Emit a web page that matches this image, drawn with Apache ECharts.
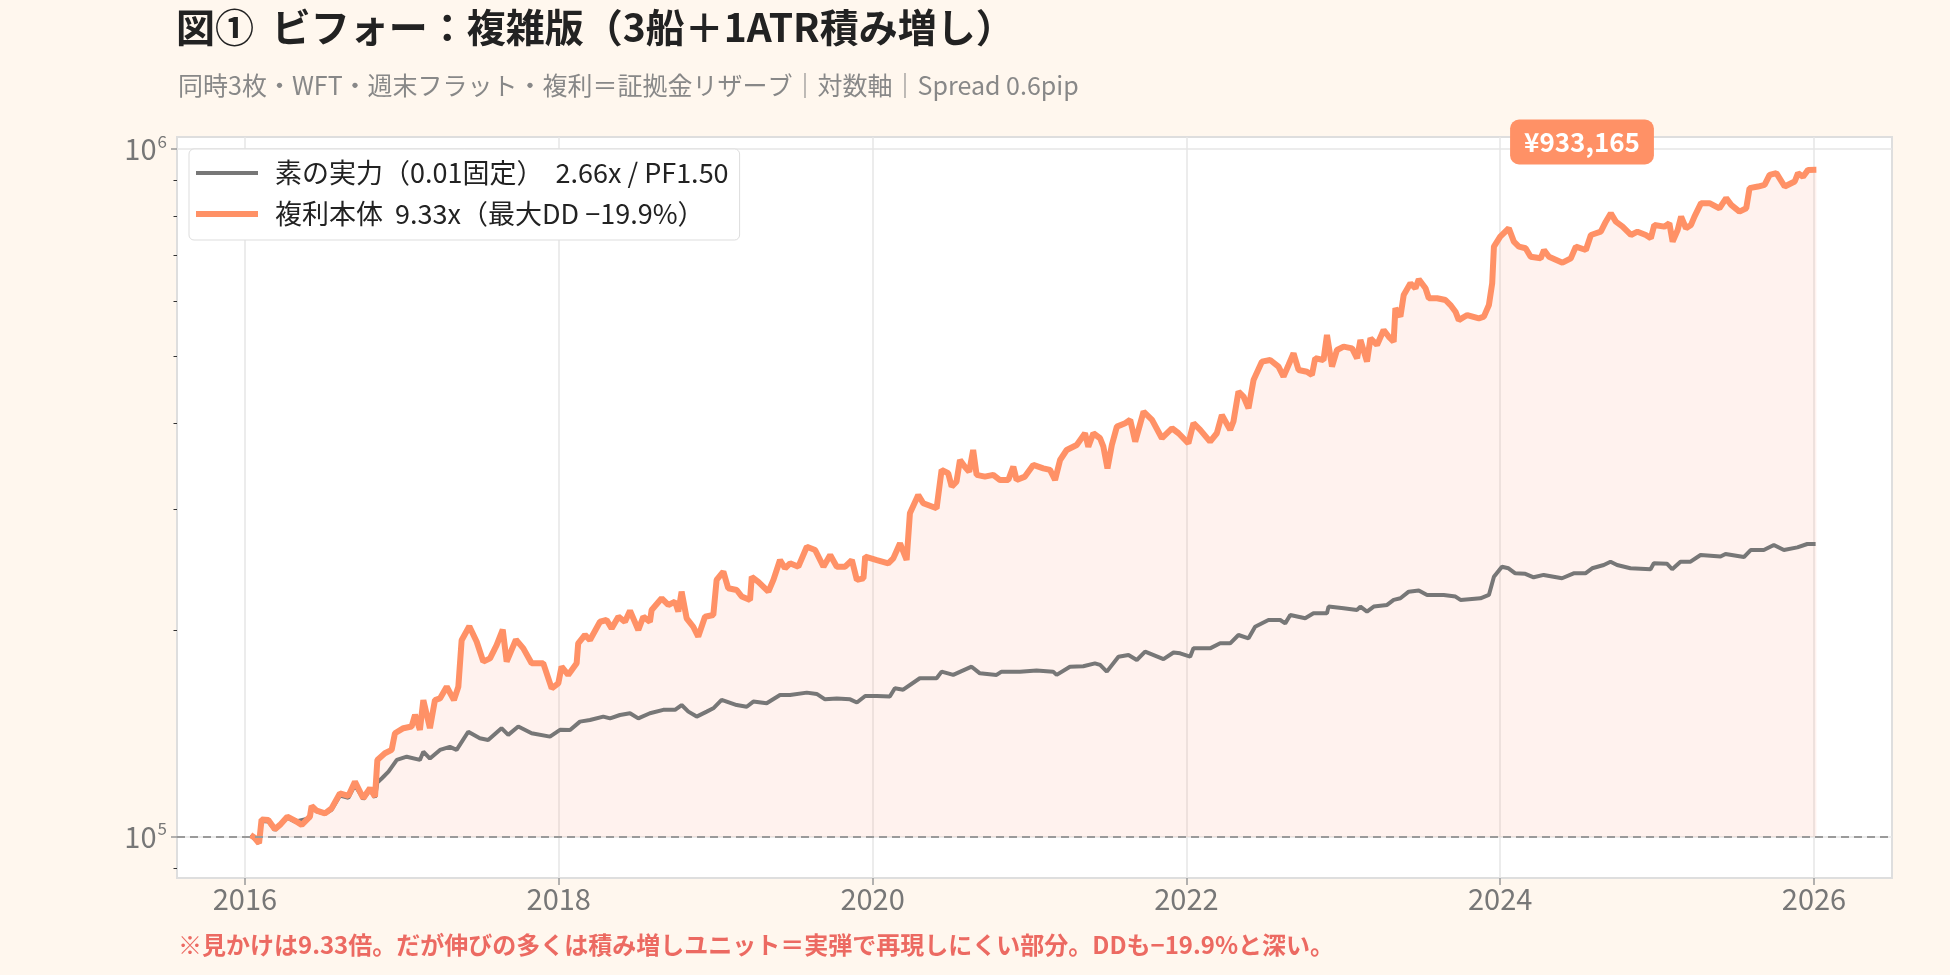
<!DOCTYPE html>
<html>
<head>
<meta charset="utf-8">
<script src="https://cdn.jsdelivr.net/npm/echarts@6/dist/echarts.min.js"></script>
<style>
  html, body { margin: 0; padding: 0; background: #fff7ee; }
  #main { width: 1950px; height: 975px; }
</style>
</head>
<body>
<div id="main"></div>
<script>
// 複利本体 (orange) : 年 / 資産
const compT = [2016.036, 2016.06, 2016.09, 2016.106, 2016.149, 2016.191, 2016.223, 2016.27, 2016.319, 2016.362,
  2016.414, 2016.425, 2016.457, 2016.51, 2016.552, 2016.605, 2016.659, 2016.701, 2016.754, 2016.797,
  2016.829, 2016.844, 2016.892, 2016.935, 2016.956, 2017.01, 2017.062, 2017.084, 2017.115, 2017.137,
  2017.179, 2017.211, 2017.243, 2017.286, 2017.332, 2017.36, 2017.381, 2017.43, 2017.477, 2017.519,
  2017.562, 2017.604, 2017.643, 2017.668, 2017.727, 2017.774, 2017.827, 2017.901, 2017.955, 2017.997,
  2018.018, 2018.06, 2018.114, 2018.124, 2018.167, 2018.199, 2018.263, 2018.305, 2018.337, 2018.38,
  2018.422, 2018.454, 2018.507, 2018.539, 2018.581, 2018.592, 2018.656, 2018.698, 2018.741, 2018.762,
  2018.783, 2018.815, 2018.857, 2018.889, 2018.932, 2018.985, 2019.006, 2019.049, 2019.08, 2019.134,
  2019.166, 2019.219, 2019.23, 2019.272, 2019.336, 2019.368, 2019.41, 2019.442, 2019.474, 2019.527,
  2019.581, 2019.634, 2019.687, 2019.73, 2019.772, 2019.825, 2019.868, 2019.9, 2019.942, 2019.953,
  2020.027, 2020.1, 2020.132, 2020.175, 2020.217, 2020.238, 2020.291, 2020.323, 2020.408, 2020.44,
  2020.482, 2020.504, 2020.535, 2020.557, 2020.588, 2020.616, 2020.641, 2020.663, 2020.716, 2020.769,
  2020.812, 2020.865, 2020.897, 2020.918, 2020.971, 2021.024, 2021.088, 2021.131, 2021.163, 2021.195,
  2021.237, 2021.301, 2021.354, 2021.375, 2021.407, 2021.45, 2021.471, 2021.497, 2021.525, 2021.557,
  2021.61, 2021.642, 2021.674, 2021.727, 2021.781, 2021.844, 2021.908, 2021.95, 2022.013, 2022.045,
  2022.088, 2022.151, 2022.194, 2022.226, 2022.279, 2022.3, 2022.332, 2022.364, 2022.396, 2022.428,
  2022.481, 2022.534, 2022.587, 2022.619, 2022.651, 2022.683, 2022.715, 2022.768, 2022.8, 2022.821,
  2022.874, 2022.896, 2022.928, 2022.96, 2023.002, 2023.056, 2023.088, 2023.109, 2023.151, 2023.173,
  2023.215, 2023.257, 2023.289, 2023.321, 2023.332, 2023.364, 2023.385, 2023.428, 2023.46, 2023.481,
  2023.524, 2023.545, 2023.598, 2023.651, 2023.683, 2023.715, 2023.736, 2023.79, 2023.864, 2023.896,
  2023.928, 2023.949, 2023.96, 2024.0, 2024.055, 2024.087, 2024.119, 2024.162, 2024.194, 2024.258,
  2024.279, 2024.311, 2024.397, 2024.45, 2024.482, 2024.546, 2024.578, 2024.641, 2024.673, 2024.705,
  2024.737, 2024.78, 2024.833, 2024.875, 2024.928, 2024.96, 2024.982, 2025.046, 2025.078, 2025.099,
  2025.131, 2025.153, 2025.184, 2025.216, 2025.238, 2025.28, 2025.334, 2025.397, 2025.44, 2025.472,
  2025.525, 2025.568, 2025.589, 2025.643, 2025.685, 2025.717, 2025.76, 2025.813, 2025.877, 2025.898,
  2025.93, 2025.962, 2026.015];
const compV = [100600, 99800, 97900, 106000, 105800, 102600, 104100, 107000, 105600, 104100,
  107000, 110900, 109200, 108200, 110000, 115700, 114700, 120300, 113800, 117700,
  114400, 129400, 132300, 133800, 141500, 143900, 144700, 150500, 143100, 158100,
  143900, 158100, 159000, 165300, 158100, 165300, 193200, 202400, 192200, 179800,
  181800, 190000, 200100, 179800, 193600, 188000, 178900, 178900, 164400, 167200,
  176800, 172000, 178800, 191200, 196600, 193300, 205500, 206700, 201000, 209000,
  205500, 213300, 199900, 209000, 205500, 213800, 222300, 217400, 219800, 212600,
  227300, 207900, 202100, 195500, 209000, 210200, 236400, 243000, 229900, 228600,
  223600, 221100, 238900, 234900, 227300, 236400, 252700, 245800, 249900, 247100,
  264200, 261300, 247100, 257000, 247100, 247100, 252700, 236400, 237700, 255600,
  252700, 249900, 254100, 267200, 252700, 295500, 314200, 305600, 300500, 341700,
  337900, 323100, 328600, 353200, 345400, 339700, 365200, 336000, 334100, 336000,
  330300, 330300, 345400, 330300, 334100, 347400, 343500, 341700, 330300, 353200,
  365200, 371400, 386300, 369300, 386300, 379900, 369300, 343500, 371400, 395000,
  399500, 404000, 375600, 415300, 404000, 379900, 392800, 386300, 373500, 399500,
  390700, 375600, 386300, 410700, 390700, 401800, 444200, 436800, 420100, 461800,
  490900, 493700, 482800, 466900, 485500, 504900, 477400, 474700, 469500, 496500,
  493700, 536900, 482800, 510500, 516200, 513300, 496500, 527900, 490900, 530900,
  519200, 545900, 534000, 524800, 587100, 570800, 613800, 638300, 627600, 646900,
  627600, 607000, 607000, 603500, 593400, 580300, 564300, 573900, 567600, 570800,
  593400, 638300, 721500, 746100, 767400, 733700, 721500, 717600, 697700, 693900,
  713500, 697700, 683900, 693900, 721500, 713500, 750300, 758600, 784500, 806900,
  784500, 771500, 750300, 758600, 750300, 742000, 775900, 771500, 780300, 733700,
  762900, 798000, 767400, 775900, 798000, 834600, 834600, 820400, 848700, 829900,
  811400, 820400, 877600, 882400, 887400, 917600, 922800, 882400, 897400, 922800,
  912000, 933000, 933165];

// 素の実力 (gray)
const baseT = [2016.036, 2016.09, 2016.106, 2016.149, 2016.191, 2016.27, 2016.319, 2016.414, 2016.425, 2016.457,
  2016.51, 2016.552, 2016.605, 2016.659, 2016.701, 2016.754, 2016.797, 2016.829, 2016.844, 2016.873,
  2016.915, 2016.968, 2017.031, 2017.115, 2017.137, 2017.179, 2017.243, 2017.306, 2017.349, 2017.423,
  2017.497, 2017.55, 2017.635, 2017.678, 2017.742, 2017.827, 2017.944, 2018.008, 2018.072, 2018.135,
  2018.199, 2018.284, 2018.327, 2018.39, 2018.454, 2018.507, 2018.581, 2018.666, 2018.741, 2018.783,
  2018.826, 2018.879, 2018.943, 2018.985, 2019.038, 2019.07, 2019.134, 2019.198, 2019.24, 2019.325,
  2019.41, 2019.474, 2019.581, 2019.644, 2019.697, 2019.772, 2019.857, 2019.9, 2019.953, 2020.027,
  2020.11, 2020.142, 2020.195, 2020.301, 2020.408, 2020.44, 2020.514, 2020.631, 2020.684, 2020.79,
  2020.822, 2020.939, 2021.045, 2021.151, 2021.173, 2021.258, 2021.343, 2021.417, 2021.45, 2021.493,
  2021.567, 2021.631, 2021.684, 2021.737, 2021.854, 2021.918, 2021.96, 2022.024, 2022.045, 2022.151,
  2022.215, 2022.279, 2022.332, 2022.396, 2022.438, 2022.523, 2022.598, 2022.63, 2022.662, 2022.757,
  2022.81, 2022.896, 2022.906, 2023.002, 2023.088, 2023.109, 2023.151, 2023.194, 2023.279, 2023.321,
  2023.364, 2023.417, 2023.481, 2023.534, 2023.64, 2023.715, 2023.747, 2023.874, 2023.928, 2023.96,
  2024.011, 2024.053, 2024.096, 2024.16, 2024.213, 2024.277, 2024.394, 2024.468, 2024.543, 2024.586,
  2024.66, 2024.703, 2024.745, 2024.83, 2024.958, 2024.979, 2025.064, 2025.096, 2025.149, 2025.213,
  2025.277, 2025.404, 2025.436, 2025.553, 2025.596, 2025.68, 2025.744, 2025.808, 2025.894, 2025.957,
  2026.01];
const baseV = [100600, 97900, 105500, 105300, 102300, 106600, 105200, 106500, 110300, 108900,
  108000, 109500, 114800, 114000, 119000, 113500, 117000, 114100, 120000, 121700,
  124400, 129400, 130800, 129400, 133000, 130000, 133800, 135200, 133800, 142200,
  139100, 138300, 143900, 140700, 144700, 141500, 139900, 143100, 143000, 147100,
  147900, 149600, 148700, 150400, 151300, 148700, 151300, 153000, 153000, 155500,
  152100, 149600, 152100, 153800, 158200, 157300, 155500, 154600, 157300, 156400,
  160800, 160800, 162100, 161400, 158500, 158900, 158500, 156800, 160300, 160300,
  160000, 164500, 163700, 170100, 170100, 173900, 172000, 176800, 172900, 172000,
  173900, 173900, 174500, 173900, 172000, 176800, 177100, 178800, 177900, 173900,
  182800, 183800, 180800, 185900, 181300, 185400, 184900, 182800, 188000, 188000,
  191200, 191200, 196600, 194400, 202100, 206700, 206700, 204400, 210200, 207900,
  211400, 211400, 216200, 215000, 213800, 216200, 212600, 216200, 217400, 221100,
  222300, 227300, 228100, 224800, 224800, 223600, 221100, 222300, 224800, 238900,
  247100, 245800, 241700, 241300, 238500, 240400, 237700, 241700, 241700, 245800,
  248500, 251300, 248500, 245800, 245000, 249900, 249500, 245000, 251300, 251300,
  257000, 255600, 257900, 255200, 261300, 261300, 265700, 261300, 263600, 266600,
  266600];

const START_CAPITAL = 100000;
const yearTicks = [2016, 2018, 2020, 2022, 2024, 2026];
const decadeTicks = [100000, 1000000];
const minorTicks = [90000, 200000, 300000, 400000, 500000, 600000, 700000, 800000, 900000];

const NAME_BASE = '素の実力（0.01固定）  2.66x / PF1.50';
const NAME_COMP = '複利本体  9.33x（最大DD −19.9%）';

const FONT = "'Noto Sans CJK JP', 'Noto Sans', sans-serif";
const ORANGE = '#ff9166';
const GRAY = '#777777';

const zip = (t, v) => t.map((x, i) => [x, v[i]]);
const compData = zip(compT, compV);
const baseData = zip(baseT, baseV);
const lastComp = compV[compV.length - 1];

const chart = echarts.init(document.getElementById('main'));

const option = {
  animation: false,
  backgroundColor: '#fff7ee',
  textStyle: { fontFamily: FONT },
  title: [
    {
      text: '図①  ビフォー：複雑版（3船＋1ATR積み増し）',
      left: 176, top: 4, padding: 0,
      textStyle: { fontFamily: FONT, fontSize: 39, fontWeight: 'bold', color: '#222', lineHeight: 46 }
    },
    {
      text: '同時3枚・WFT・週末フラット・複利＝証拠金リザーブ｜対数軸｜Spread 0.6pip',
      left: 178, top: 70, padding: 0,
      textStyle: { fontFamily: FONT, fontSize: 25, fontWeight: 'normal', color: '#888', lineHeight: 30 }
    },
    {
      text: '※見かけは9.33倍。だが伸びの多くは積み増しユニット＝実弾で再現しにくい部分。DDも−19.9%と深い。',
      left: 178, top: 930, padding: 0,
      textStyle: { fontFamily: FONT, fontSize: 24, fontWeight: 'bold', color: '#ec6a62', lineHeight: 30 }
    }
  ],
  legend: {
    data: [
      { name: NAME_BASE, icon: 'path://M0,0H62V4H0Z' },
      { name: NAME_COMP, icon: 'path://M0,0H62V6H0Z' }
    ],
    orient: 'vertical',
    left: 189, top: 149,
    backgroundColor: '#ffffff',
    borderColor: '#dddddd',
    borderWidth: 1,
    borderRadius: 5,
    padding: [9, 11, 11, 7],
    itemGap: 11,
    itemWidth: 62,
    itemHeight: 14,
    textStyle: { fontFamily: FONT, fontSize: 27, color: '#222', lineHeight: 30, padding: [0, 0, 0, 12] }
  },
  grid: {
    left: 177, right: 58, top: 137, bottom: 97,
    show: true,
    backgroundColor: '#ffffff',
    borderColor: '#dedede',
    borderWidth: 2
  },
  xAxis: {
    type: 'value',
    min: 2015.567,
    max: 2026.497,
    axisLine: { show: false },
    axisTick: { show: true, customValues: yearTicks, length: 7, lineStyle: { color: '#999', width: 1.5 } },
    axisLabel: {
      customValues: yearTicks, margin: 6,
      fontFamily: FONT, fontSize: 29, color: '#777',
      formatter: v => String(Math.round(v))
    },
    splitLine: { show: true, lineStyle: { color: '#e6e6e6', width: 1.5 } }
  },
  yAxis: [
    {
      type: 'log',
      logBase: 10,
      min: 87140,
      max: 1041600,
      axisLine: { show: false },
      axisTick: { show: true, customValues: decadeTicks, length: 6, lineStyle: { color: '#999', width: 1.5 } },
      axisLabel: {
        customValues: decadeTicks, margin: 10,
        color: '#777',
        formatter: v => '{a|10}{b|' + Math.round(Math.log10(v)) + '}',
        rich: {
          a: { fontFamily: FONT, fontSize: 29, color: '#777', lineHeight: 32 },
          b: { fontFamily: FONT, fontSize: 17, color: '#777', lineHeight: 32, padding: [0, 0, 16, 1] }
        }
      },
      splitLine: { show: true, lineStyle: { color: '#e6e6e6', width: 1.5 } }
    },
    {
      // 副目盛り
      type: 'log',
      logBase: 10,
      min: 87140,
      max: 1041600,
      position: 'left',
      axisLine: { show: false },
      axisTick: { show: true, customValues: minorTicks, length: 3.5, lineStyle: { color: '#333', width: 1 } },
      axisLabel: { show: false },
      splitLine: { show: false }
    }
  ],
  series: [
    {
      // 塗り (初期資金から上)
      name: 'fill',
      type: 'line',
      data: compData,
      symbol: 'none',
      silent: true,
      lineStyle: { width: 0 },
      areaStyle: { color: 'rgba(255,145,102,0.16)', origin: START_CAPITAL },
      z: 1,
      markLine: {
        silent: true,
        symbol: 'none',
        label: { show: false },
        lineStyle: { color: '#9a9a9a', type: [8, 5], width: 2 },
        data: [{ yAxis: START_CAPITAL }]
      }
    },
    {
      name: NAME_BASE,
      type: 'line',
      data: baseData,
      symbol: 'none',
      lineStyle: { color: GRAY, width: 4 },
      itemStyle: { color: GRAY },
      z: 3
    },
    {
      name: NAME_COMP,
      type: 'line',
      data: compData,
      symbol: 'none',
      lineStyle: { color: ORANGE, width: 6 },
      itemStyle: { color: ORANGE },
      z: 4
    }
  ],
  graphic: [
    {
      type: 'text',
      x: 1582, y: 142,
      z: 100,
      style: {
        text: '¥' + lastComp.toLocaleString('en-US'),
        fill: '#ffffff',
        font: 'bold 26px ' + FONT,
        align: 'center',
        verticalAlign: 'middle',
        backgroundColor: ORANGE,
        padding: [10, 14, 9, 14],
        borderRadius: 9
      }
    }
  ]
};

chart.setOption(option);
</script>
</body>
</html>
